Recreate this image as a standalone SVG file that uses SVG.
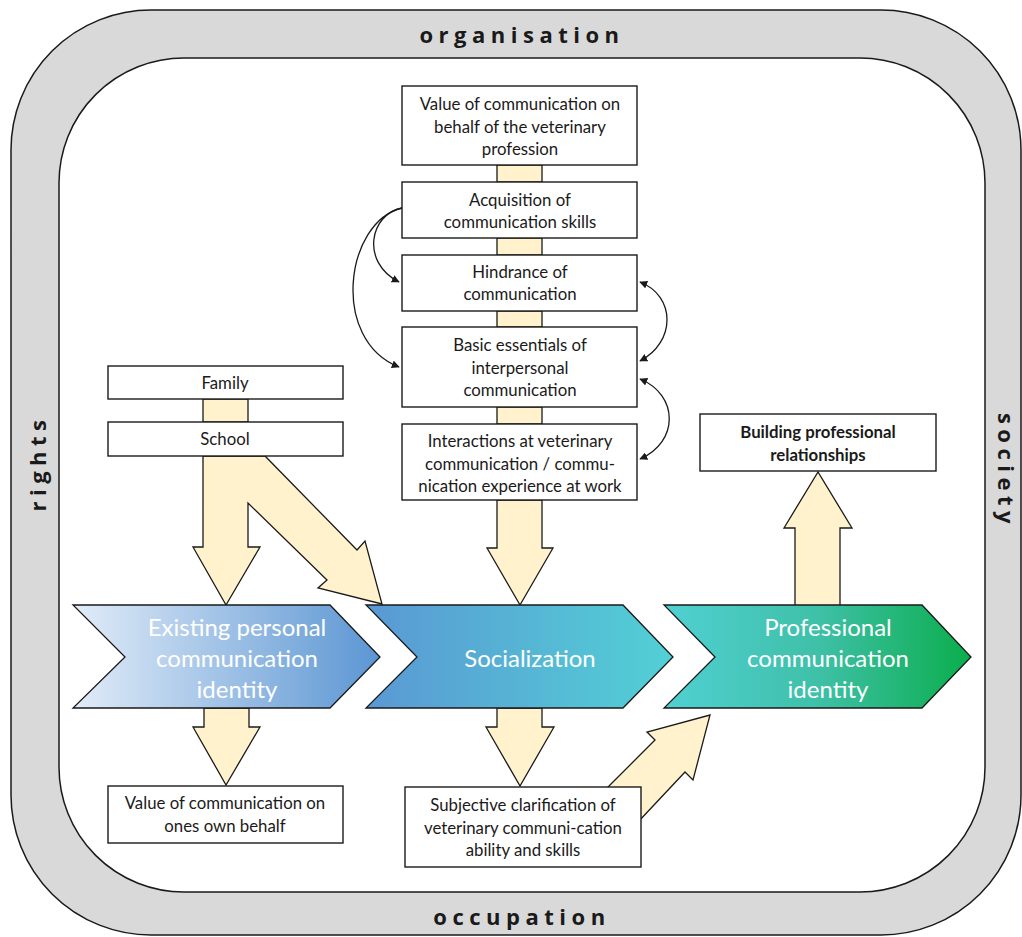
<svg xmlns="http://www.w3.org/2000/svg" width="1022" height="937" viewBox="0 0 1022 937">
<defs>
<style>
.box{fill:#ffffff;stroke:#1a1a1a;stroke-width:1.4}
.t{font-family:Lato,"Open Sans","Liberation Sans",sans-serif;font-size:16.8px;fill:#1a1a1a;text-anchor:middle}
.tb{font-family:Lato,"Open Sans","Liberation Sans",sans-serif;font-size:16.8px;fill:#1a1a1a;text-anchor:middle;font-weight:bold}
.ct{font-family:Lato,"Open Sans","Liberation Sans",sans-serif;font-size:24px;fill:#ffffff;text-anchor:middle}
.ring{font-family:"Open Sans","Liberation Sans",sans-serif;font-size:22px;font-weight:bold;fill:#1a1a1a;text-anchor:middle;letter-spacing:5.5px}
.beige{fill:#fff2cc;stroke:#1a1a1a;stroke-width:1.3;stroke-linejoin:miter}
.chev{stroke:#1a1a1a;stroke-width:1.3}
.curve{fill:none;stroke:#1a1a1a;stroke-width:1.3}
</style>
<linearGradient id="g1" x1="0" y1="0" x2="1" y2="0">
<stop offset="0" stop-color="#e2ecf8"/>
<stop offset="1" stop-color="#5b96d3"/>
</linearGradient>
<linearGradient id="g2" x1="0" y1="0" x2="1" y2="0">
<stop offset="0" stop-color="#5a98d4"/>
<stop offset="1" stop-color="#52d0d5"/>
</linearGradient>
<linearGradient id="g3" x1="0" y1="0" x2="1" y2="0">
<stop offset="0" stop-color="#50d0d2"/>
<stop offset="0.5" stop-color="#3fc0a8"/>
<stop offset="1" stop-color="#0aae4c"/>
</linearGradient>
<marker id="ah" viewBox="0 0 10 10" refX="9" refY="5" markerWidth="8" markerHeight="8" markerUnits="userSpaceOnUse" orient="auto-start-reverse">
<path d="M0,0 L10,5 L0,10 z" fill="#1a1a1a"/>
</marker>
</defs>

<g id="ring">
<rect x="11" y="10" width="1010" height="925" rx="140" ry="140" fill="#d9d9d9" stroke="#1a1a1a" stroke-width="1.5"/>
<rect x="59" y="58" width="926" height="834" rx="125" ry="125" fill="#ffffff" stroke="#1a1a1a" stroke-width="1.5"/>
<text class="ring" x="522" y="43">organisation</text>
<text class="ring" x="522" y="925">occupation</text>
<text class="ring" transform="translate(46,463) rotate(-90)">rights</text>
<text class="ring" transform="translate(998,471) rotate(90)">society</text>
</g>

<g id="connectors">
<rect class="beige" x="497" y="165" width="45" height="17"/>
<rect class="beige" x="497" y="238" width="45" height="17"/>
<rect class="beige" x="497" y="311" width="45" height="16"/>
<rect class="beige" x="497" y="407" width="45" height="17"/>
<rect class="beige" x="203" y="399" width="45" height="23"/>
<polygon class="beige" points="203,456 265,456 357,550 365,541 382,604 318,588 327,580 248,503 248,547 260,547 226,605 193,547 203,547"/>
<polygon class="beige" points="497,500 542,500 542,548 553,548 520,605 487,548 497,548"/>
<polygon class="beige" points="204,708 249,708 249,727 260,727 226,785 193,727 204,727"/>
<polygon class="beige" points="497,708 542,708 542,727 554,727 520,786 486,727 497,727"/>
<polygon class="beige" points="795,606 840,606 840,528 852,528 818,472 784,528 795,528"/>
<polygon class="beige" points="590,805 655,740 647,732 710,715 693,780 685,772 623,838"/>
<path class="curve" d="M402,208 C370,214 360,262 399,282" marker-end="url(#ah)"/>
<path class="curve" d="M402,208 C345,222 330,340 399,367" marker-end="url(#ah)"/>
<path class="curve" d="M640,282 C676,296 676,342 640,361" marker-start="url(#ah)" marker-end="url(#ah)"/>
<path class="curve" d="M640,379 C679,395 679,442 640,459" marker-start="url(#ah)" marker-end="url(#ah)"/>
</g>

<g id="n-value-prof">
<rect class="box" x="402" y="86" width="235" height="79"/>
<text class="t" x="520" y="110">Value of communication on</text>
<text class="t" x="520" y="133">behalf of the veterinary</text>
<text class="t" x="520" y="155">profession</text>
</g>
<g id="n-acquisition">
<rect class="box" x="402" y="182" width="235" height="56"/>
<text class="t" x="520" y="206">Acquisition of</text>
<text class="t" x="520" y="228">communication skills</text>
</g>
<g id="n-hindrance">
<rect class="box" x="402" y="255" width="235" height="56"/>
<text class="t" x="520" y="278">Hindrance of</text>
<text class="t" x="520" y="300">communication</text>
</g>
<g id="n-basic">
<rect class="box" x="402" y="327" width="235" height="80"/>
<text class="t" x="520" y="351">Basic essentials of</text>
<text class="t" x="520" y="374">interpersonal</text>
<text class="t" x="520" y="396">communication</text>
</g>
<g id="n-interactions">
<rect class="box" x="402" y="424" width="235" height="76"/>
<text class="t" x="520" y="447">Interactions at veterinary</text>
<text class="t" x="520" y="470">communication / commu-</text>
<text class="t" x="520" y="492">nication experience at work</text>
</g>
<g id="n-family">
<rect class="box" x="108" y="366" width="235" height="33"/>
<text class="t" x="225" y="389">Family</text>
</g>
<g id="n-school">
<rect class="box" x="108" y="422" width="235" height="34"/>
<text class="t" x="225" y="445">School</text>
</g>
<g id="n-building">
<rect class="box" x="700" y="414" width="236" height="57"/>
<text class="tb" x="818" y="438">Building professional</text>
<text class="tb" x="818" y="461">relationships</text>
</g>
<g id="n-value-own">
<rect class="box" x="108" y="786" width="235" height="57"/>
<text class="t" x="225" y="809">Value of communication on</text>
<text class="t" x="225" y="832">ones own behalf</text>
</g>
<g id="n-subjective">
<rect class="box" x="405" y="787" width="236" height="80"/>
<text class="t" x="523" y="811">Subjective clarification of</text>
<text class="t" x="523" y="834">veterinary communi-cation</text>
<text class="t" x="523" y="856">ability and skills</text>
</g>

<g id="n-existing">
<polygon class="chev" fill="url(#g1)" points="73,605 330,605 380,657 330,708 73,708 125,657"/>
<text class="ct" x="237" y="636">Existing personal</text>
<text class="ct" x="237" y="667">communication</text>
<text class="ct" x="237" y="698">identity</text>
</g>
<g id="n-socialization">
<polygon class="chev" fill="url(#g2)" points="366,605 623,605 673,657 623,708 366,708 417,657"/>
<text class="ct" x="530" y="667">Socialization</text>
</g>
<g id="n-professional">
<polygon class="chev" fill="url(#g3)" points="664,605 922,605 971,657 922,708 664,708 715,657"/>
<text class="ct" x="828" y="636">Professional</text>
<text class="ct" x="828" y="667">communication</text>
<text class="ct" x="828" y="698">identity</text>
</g>
</svg>
